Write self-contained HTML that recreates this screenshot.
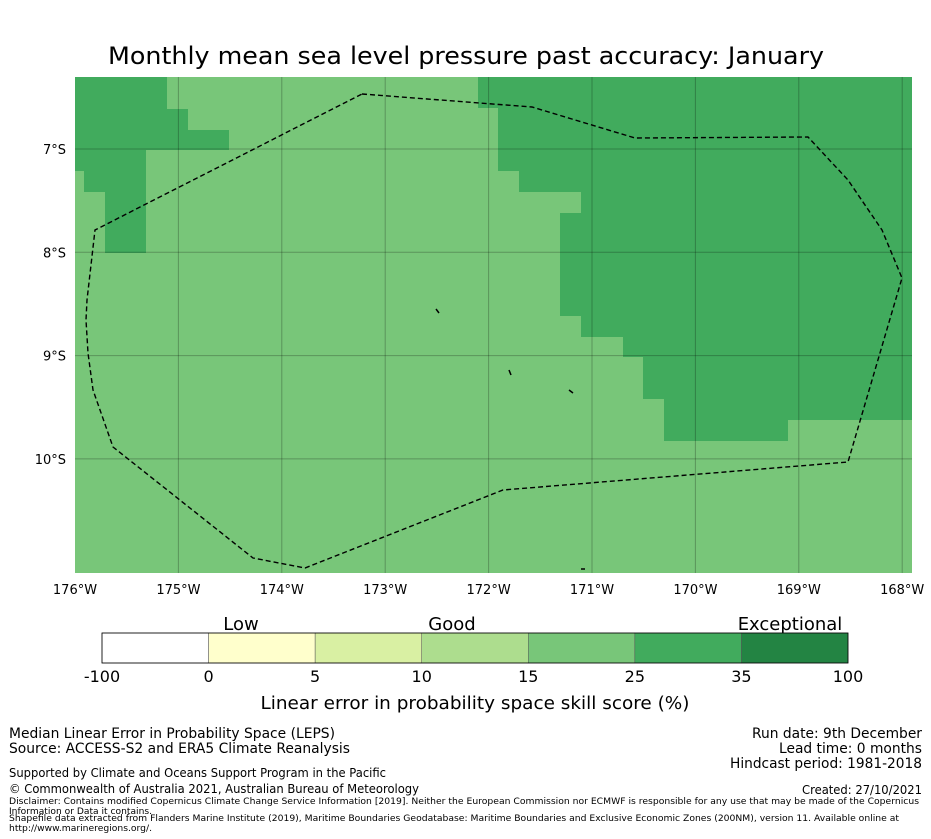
<!DOCTYPE html>
<html><head><meta charset="utf-8"><style>
body{margin:0;background:#fff;}
svg{display:block;font-family:"DejaVu Sans","Liberation Sans",sans-serif;}
</style></head><body>
<svg width="931" height="839" viewBox="0 0 931 839">
<text x="466" y="64" font-size="24" text-anchor="middle" textLength="716" lengthAdjust="spacingAndGlyphs">Monthly mean sea level pressure past accuracy: January</text>
<g id="map">
<rect x="75" y="77" width="837" height="496" fill="#78c679"/>
<polygon fill="#41ab5d" points="478,77 912,77 912,420 788,420 788,441 664,441 664,399 643,399 643,357 623,357 623,337 581,337 581,316 560,316 560,213 581,213 581,192 519,192 519,171 498,171 498,108 478,108"/>
<polygon fill="#41ab5d" points="75,77 167,77 167,109 188,109 188,130 229,130 229,150 146,150 146,253 105,253 105,192 84,192 84,171 75,171"/>
<g id="grid" stroke="rgba(0,0,0,0.25)" stroke-width="1"></g>
<polyline fill="none" stroke="#000" stroke-width="1.4" stroke-dasharray="5,3" points="362,94 532,107 635,138 808,137 848,180 882,230 902,278 848,462 503,490 305,568 253,558 113,447 93,390 88,353 86,320 87,300 95,230 362,94"/>
<g stroke="#000" stroke-width="1.5">
<line x1="436" y1="309" x2="439" y2="313"/><line x1="509" y1="370" x2="511" y2="375"/><line x1="569" y1="390" x2="573" y2="393"/><line x1="581" y1="569" x2="585" y2="569"/>
</g>
<g id="xlabels" font-size="13" text-anchor="middle"></g>
<g id="ylabels" font-size="13" text-anchor="end"></g>
</g>
<g>
<text x="241" y="630" font-size="18" text-anchor="middle">Low</text>
<text x="452" y="630" font-size="18" text-anchor="middle">Good</text>
<text x="790" y="630" font-size="18" text-anchor="middle">Exceptional</text>
<g id="cbar"></g>
<rect x="102" y="633" width="746" height="30" fill="none" stroke="#000" stroke-width="0.8"/>
<g id="cblabels" font-size="16" text-anchor="middle"></g>
<text x="475" y="709" font-size="18" text-anchor="middle" textLength="429" lengthAdjust="spacingAndGlyphs">Linear error in probability space skill score (%)</text>
</g>
<g font-size="14">
<text x="9" y="738" textLength="326" lengthAdjust="spacingAndGlyphs">Median Linear Error in Probability Space (LEPS)</text>
<text x="9" y="753" textLength="341" lengthAdjust="spacingAndGlyphs">Source: ACCESS-S2 and ERA5 Climate Reanalysis</text>
<text x="9" y="777" font-size="12" textLength="377" lengthAdjust="spacingAndGlyphs">Supported by Climate and Oceans Support Program in the Pacific</text>
<text x="9" y="793" font-size="12" textLength="410" lengthAdjust="spacingAndGlyphs">© Commonwealth of Australia 2021, Australian Bureau of Meteorology</text>
<text x="9" y="804" font-size="9" textLength="910" lengthAdjust="spacingAndGlyphs">Disclaimer: Contains modified Copernicus Climate Change Service Information [2019]. Neither the European Commission nor ECMWF is responsible for any use that may be made of the Copernicus</text>
<text x="9" y="814" font-size="9" textLength="143" lengthAdjust="spacingAndGlyphs">Information or Data it contains.</text>
<text x="9" y="821" font-size="9" textLength="890" lengthAdjust="spacingAndGlyphs">Shapefile data extracted from Flanders Marine Institute (2019), Maritime Boundaries Geodatabase: Maritime Boundaries and Exclusive Economic Zones (200NM), version 11. Available online at</text>
<text x="9" y="831" font-size="9" textLength="143" lengthAdjust="spacingAndGlyphs">http://www.marineregions.org/.</text>
<g text-anchor="end">
<text x="922" y="738" textLength="170" lengthAdjust="spacingAndGlyphs">Run date: 9th December</text>
<text x="922" y="753" textLength="143" lengthAdjust="spacingAndGlyphs">Lead time: 0 months</text>
<text x="922" y="768" textLength="192" lengthAdjust="spacingAndGlyphs">Hindcast period: 1981-2018</text>
<text x="922" y="794" font-size="12" textLength="120" lengthAdjust="spacingAndGlyphs">Created: 27/10/2021</text>
</g>
</g>
</svg>
<script>
const lonTicks=[-176,-175,-174,-173,-172,-171,-170,-169,-168];
const latTicks=[-7,-8,-9,-10];
const cbBounds=[-100,0,5,10,15,25,35,100];
const cbColors=["#ffffff","#ffffcc","#d9f0a3","#addd8e","#78c679","#41ab5d","#238443"];
const NS="http://www.w3.org/2000/svg";
function xOf(lon){return 75+(lon+176)*103.4;}
function yOf(lat){return 149+(-7-lat)*103.3;}
function mk(tag,attrs,parent){const e=document.createElementNS(NS,tag);for(const k in attrs)e.setAttribute(k,attrs[k]);parent.appendChild(e);return e;}
const grid=document.getElementById('grid');
const xl=document.getElementById('xlabels');
const yl=document.getElementById('ylabels');
lonTicks.forEach(l=>{
  const x=xOf(l);
  if(l>-176&&l<-167.9){const g=mk('line',{x1:x,x2:x,y1:77,y2:573},grid);
  
  }
  const t=mk('text',{x:x,y:594},xl);t.textContent=Math.abs(l)+'°W';
  
  
});
latTicks.forEach(l=>{
  const y=yOf(l);
  const g=mk('line',{x1:75,x2:912,y1:y,y2:y},grid);
  
  
  const t=mk('text',{x:66,y:y+5},yl);t.textContent=Math.abs(l)+'°S';
  
  
});
const cb=document.getElementById('cbar'),cbl=document.getElementById('cblabels');
const segW=746/cbColors.length;
cbColors.forEach((c,i)=>{
  const r=mk('rect',{x:102+i*segW,y:633,width:segW,height:30,fill:c,stroke:'#555','stroke-width':0.5},cb);
  
  
});
cbBounds.forEach((b,i)=>{
  const t=mk('text',{x:102+i*segW,y:682},cbl);t.textContent=b;
  
  
});
</script>
</body></html>
